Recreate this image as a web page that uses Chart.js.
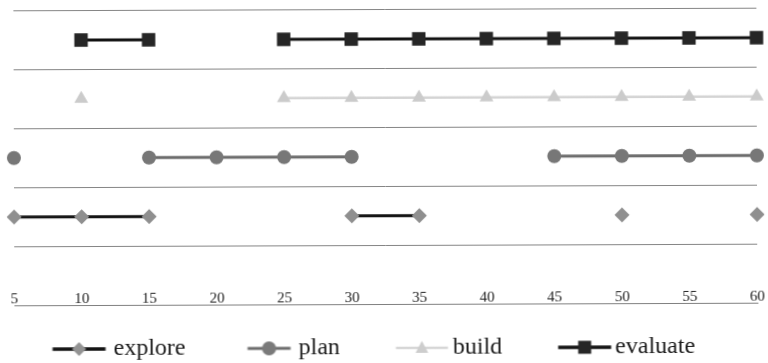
<!DOCTYPE html>
<html>
<head>
<meta charset="utf-8">
<script src="https://cdn.jsdelivr.net/npm/chart.js@4.4.1/dist/chart.umd.min.js"></script>
<style>
  html, body { margin: 0; padding: 0; background: #fff; }
  #wrap { width: 768px; height: 363px; transform: rotate(-0.2deg); transform-origin: 50% 50%; }
</style>
</head>
<body>
<div id="wrap"><canvas id="chart" width="768" height="363"></canvas></div>
<script>
// Time steps along the x axis
const categories = ['5', '10', '15', '20', '25', '30', '35', '40', '45', '50', '55', '60'];

// Activity lanes: each activity sits on its own level, null = not active
const explore  = [1.5, 1.5, 1.5, null, null, 1.5, 1.5, null, null, 1.5, null, 1.5];
const plan     = [2.5, null, 2.5, 2.5, 2.5, 2.5, null, null, 2.5, 2.5, 2.5, 2.5];
const build    = [null, 3.5, null, null, 3.5, 3.5, 3.5, 3.5, 3.5, 3.5, 3.5, 3.5];
const evaluate = [null, 4.5, 4.5, null, 4.5, 4.5, 4.5, 4.5, 4.5, 4.5, 4.5, 4.5];

const seriesNames = ['explore', 'plan', 'build', 'evaluate'];

const SERIF = '"Liberation Serif", "Times New Roman", serif';
const BOX_W = 89;      // legend symbol slot width
const HALF = 56;       // half width of the legend icon canvas

// Legend icon: a short line segment with the series marker in its middle
function legendIcon(lineColor, lineWidth, markerColor, shape, r, x0, x1) {
  const c = document.createElement('canvas');
  c.width = HALF * 2;
  c.height = 22;
  const g = c.getContext('2d');
  const shift = HALF - BOX_W / 2;
  const a = x0 + shift, b = x1 + shift, cy = 11, cx = (a + b) / 2;
  g.strokeStyle = lineColor;
  g.lineWidth = lineWidth;
  g.beginPath();
  g.moveTo(a, cy);
  g.lineTo(b, cy);
  g.stroke();
  g.fillStyle = markerColor;
  g.beginPath();
  if (shape === 'diamond') {
    g.moveTo(cx, cy - r); g.lineTo(cx + r, cy); g.lineTo(cx, cy + r); g.lineTo(cx - r, cy); g.closePath();
  } else if (shape === 'circle') {
    g.arc(cx, cy, r, 0, Math.PI * 2);
  } else if (shape === 'triangle') {
    g.moveTo(cx, cy - r); g.lineTo(cx + r * 0.9, cy + r * 0.7); g.lineTo(cx - r * 0.9, cy + r * 0.7); g.closePath();
  } else {
    g.rect(cx - r, cy - r, 2 * r, 2 * r);
  }
  g.fill();
  return c;
}

const icons = [
  legendIcon('#141414', 3.5, '#939393', 'diamond', 7, 40, 93),
  legendIcon('#6e6e6e', 3, '#7a7a7a', 'circle', 7, 50, 93),
  legendIcon('#d6d6d6', 2.5, '#cdcdcd', 'triangle', 7, 44, 96),
  legendIcon('#141414', 3.5, '#262626', 'square', 6.5, 44, 97)
];

const datasets = [
  {
    label: seriesNames[0], data: explore,
    borderColor: '#141414', borderWidth: 3,
    pointStyle: 'rectRot', pointRadius: 7.5, pointHoverRadius: 7.5,
    pointBackgroundColor: '#8f8f8f', pointBorderColor: '#8f8f8f', pointBorderWidth: 0
  },
  {
    label: seriesNames[1], data: plan,
    borderColor: '#6c6c6c', borderWidth: 3,
    pointStyle: 'circle', pointRadius: 7, pointHoverRadius: 7,
    pointBackgroundColor: '#777777', pointBorderColor: '#777777', pointBorderWidth: 0
  },
  {
    label: seriesNames[2], data: build,
    borderColor: '#d4d4d4', borderWidth: 2.5,
    pointStyle: 'triangle', pointRadius: 8, pointHoverRadius: 8,
    pointBackgroundColor: '#cbcbcb', pointBorderColor: '#cbcbcb', pointBorderWidth: 0
  },
  {
    label: seriesNames[3], data: evaluate,
    borderColor: '#111111', borderWidth: 3,
    pointStyle: 'rect', pointRadius: 9.5, pointHoverRadius: 9.5,
    pointBackgroundColor: '#262626', pointBorderColor: '#262626', pointBorderWidth: 0
  }
];

new Chart(document.getElementById('chart'), {
  type: 'line',
  data: { labels: categories, datasets: datasets },
  options: {
    responsive: false,
    animation: false,
    devicePixelRatio: 1,
    layout: { padding: { left: 0, right: 11, top: 8, bottom: -7 } },
    elements: { line: { tension: 0 } },
    scales: {
      x: {
        type: 'category',
        offset: false,
        grid: { display: false },
        border: { display: true, color: '#808080', width: 1 },
        ticks: {
          // labels sit just above the axis line, inside the plot
          mirror: true,
          padding: -3,
          maxRotation: 0,
          autoSkip: false,
          color: '#222',
          font: { family: SERIF, size: 15 }
        },
        afterFit: (s) => { s.height = 20; }
      },
      y: {
        min: 0,
        max: 5,
        ticks: { display: false, stepSize: 1 },
        border: { display: false },
        grid: { color: '#858585', lineWidth: 1, drawTicks: false },
        afterFit: (s) => { s.width = 14; }
      }
    },
    plugins: {
      tooltip: { enabled: false },
      legend: {
        position: 'bottom',
        align: 'start',
        labels: {
          usePointStyle: true,
          pointStyleWidth: BOX_W,
          padding: 12,
          color: '#1a1a1a',
          font: { family: SERIF, size: 24 },
          generateLabels: (chart) => {
            const items = Chart.defaults.plugins.legend.labels.generateLabels(chart);
            items.forEach((it, i) => { it.pointStyle = icons[i]; });
            return items;
          }
        }
      }
    }
  }
});
</script>
</body>
</html>
